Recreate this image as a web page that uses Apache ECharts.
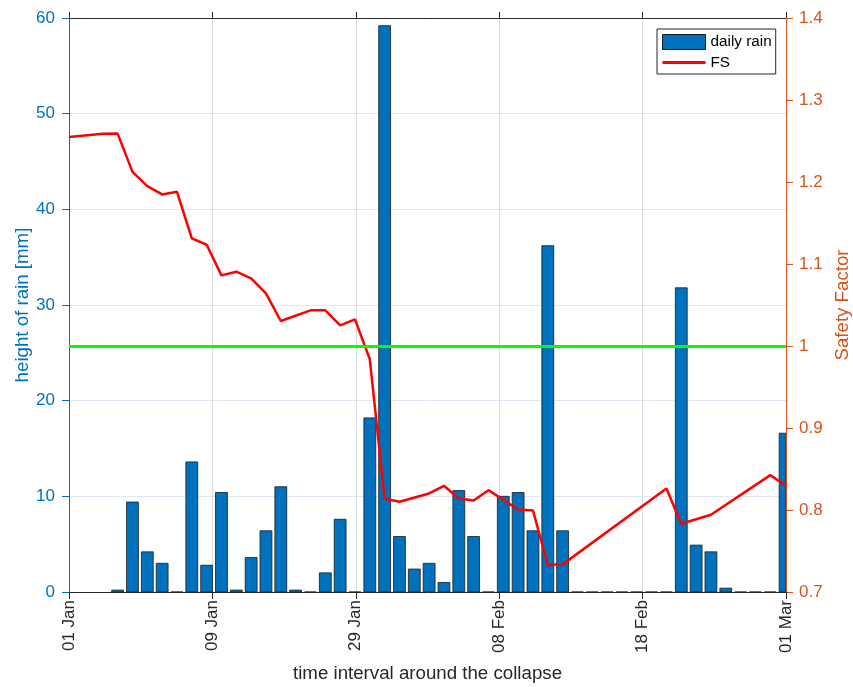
<!DOCTYPE html>
<html>
<head>
<meta charset="utf-8">
<script src="https://cdn.jsdelivr.net/npm/echarts@6/dist/echarts.min.js"></script>
<style>html,body{margin:0;padding:0;background:#fff;}#c{width:853px;height:687px;}</style>
</head>
<body>
<div id="c"></div>
<script>
// x tick labels (placed at every 10 units of the label axis)
const tickLabels = ['01 Jan', '09 Jan', '29 Jan', '08 Feb', '18 Feb', '01 Mar'];
// daily rain: day index and height [mm]
const rainDay = [0,1,2,3,4,5,6,7,8,9,10,11,12,13,14,15,16,17,18,19,20,21,22,23,24,25,26,27,28,29,30,31,32,33,34,35,36,37,38,39,40,41,42,43,44,45];
const rainMm  = [0.2,9.4,4.2,3.0,0,13.6,2.8,10.4,0.2,3.6,6.4,11.0,0.2,0,2.0,7.6,0,18.2,59.2,5.8,2.4,3.0,1.0,10.6,5.8,0,10.0,10.4,6.4,36.2,6.4,0,0,0,0,0,0,0,31.8,4.9,4.2,0.4,0,0,0,16.6];
// safety factor: day index and value
const fsDay = [-3.28,-1,0,1,2,3,4,5,6,7,8,9,10,11,13,14,15,16,17,18,19,21,22,23,24,25,27,28,29,30,37,38,40,44,45.06];
const fsVal = [1.255,1.2587,1.259,1.2124,1.1949,1.1848,1.1881,1.1312,1.1235,1.0861,1.0906,1.0825,1.0642,1.0305,1.0435,1.0435,1.0252,1.0325,0.9838,0.8137,0.810,0.8202,0.8295,0.8141,0.8117,0.8242,0.8007,0.7995,0.7329,0.7337,0.8263,0.7832,0.7942,0.8425,0.8295];
const fsLimit = 1;

const FONT = "'Liberation Sans', Arial, sans-serif";
const BLUE = '#0072BD', ORANGE = '#D95319', DARK = '#262626', EDGE = '#1a1a1a';
const BAR_FRACTION = 0.8; // MATLAB default bar width relative to day spacing

const chart = echarts.init(document.getElementById('c'));

function renderBar(params, api) {
  const d = api.value(0), v = api.value(1);
  const base = api.coord([d, 0]);
  const top = api.coord([d, v]);
  const w = api.size([1, 0])[0] * BAR_FRACTION;
  const cs = params.coordSys;
  const rect = echarts.graphic.clipRectByRect(
    { x: base[0] - w / 2, y: top[1], width: w, height: base[1] - top[1] },
    { x: cs.x, y: cs.y, width: cs.width, height: cs.height }
  );
  if (!rect) return null;
  return {
    type: 'rect', shape: rect,
    style: { fill: BLUE, stroke: EDGE, lineWidth: 0.8 }
  };
}

chart.setOption({
  animation: false,
  backgroundColor: '#fff',
  textStyle: { fontFamily: FONT },
  grid: { left: 69, right: 67, top: 18, bottom: 95, containLabel: false, outerBoundsMode: 'none' },
  legend: {
    orient: 'vertical', left: 657, top: 29,
    data: [
      { name: 'daily rain', icon: 'rect', itemStyle: { color: BLUE, borderColor: EDGE, borderWidth: 1 } },
      { name: 'FS', itemStyle: { color: 'rgba(0,0,0,0)', borderWidth: 0, opacity: 0 }, lineStyle: { width: 3, color: '#FF0000' } }
    ],
    itemWidth: 43, itemHeight: 15, itemGap: 5,
    padding: [5, 4, 4, 4],
    borderColor: DARK, borderWidth: 1, backgroundColor: '#fff', borderRadius: 0,
    textStyle: { fontFamily: FONT, fontSize: 15.3, color: '#000' }
  },
  xAxis: [
    { type: 'value', min: -3.28, max: 45.06, show: false, axisLine: { onZero: false } },
    {
      type: 'value', min: 0, max: 50, interval: 10, position: 'bottom',
      name: 'time interval around the collapse', nameLocation: 'middle', nameGap: 72,
      nameTextStyle: { fontFamily: FONT, fontSize: 18.7, color: DARK },
      axisLine: { show: true, onZero: false, lineStyle: { color: DARK, width: 1 } },
      axisTick: { show: true, inside: false, length: 7, lineStyle: { color: DARK } },
      axisLabel: { rotate: 90, margin: 8, fontFamily: FONT, fontSize: 17, color: DARK,
        formatter: v => tickLabels[Math.round(v / 10)] },
      splitLine: { show: true, lineStyle: { color: '#dcdcdc', width: 1 } }
    },
    {
      type: 'value', min: 0, max: 50, interval: 10, position: 'top',
      axisLine: { show: true, onZero: false, lineStyle: { color: DARK, width: 1 } },
      axisTick: { show: true, inside: false, length: 6, lineStyle: { color: DARK } },
      axisLabel: { show: false }, splitLine: { show: false }
    }
  ],
  yAxis: [
    {
      type: 'value', min: 0, max: 60, interval: 10, position: 'left',
      name: 'height of rain [mm]', nameLocation: 'middle', nameGap: 37, nameRotate: 90,
      nameMoveOverlap: false,
      nameTextStyle: { fontFamily: FONT, fontSize: 18.7, color: BLUE },
      axisLine: { show: true, onZero: false, lineStyle: { color: BLUE, width: 1 } },
      axisTick: { show: true, inside: false, length: 7, lineStyle: { color: BLUE } },
      axisLabel: { margin: 14, fontFamily: FONT, fontSize: 17, color: BLUE },
      splitLine: { show: true, lineStyle: { color: '#dfe8f3', width: 1 } }
    },
    {
      type: 'value', min: 0.7, max: 1.4, interval: 0.1, position: 'right',
      name: 'Safety Factor', nameLocation: 'middle', nameGap: 44, nameRotate: 90,
      nameTextStyle: { fontFamily: FONT, fontSize: 18.7, color: ORANGE },
      axisLine: { show: true, onZero: false, lineStyle: { color: ORANGE, width: 1 } },
      axisTick: { show: true, inside: false, length: 7, lineStyle: { color: ORANGE } },
      axisLabel: { margin: 13, fontFamily: FONT, fontSize: 17, color: ORANGE,
        formatter: v => String(Math.round(v * 10) / 10) },
      splitLine: { show: false }
    }
  ],
  series: [
    {
      name: 'daily rain', type: 'custom', xAxisIndex: 0, yAxisIndex: 0,
      renderItem: renderBar,
      encode: { x: 0, y: 1 },
      data: rainDay.map((d, i) => [d, rainMm[i]]),
      itemStyle: { color: BLUE, borderColor: EDGE, borderWidth: 0.8 },
      clip: true,
      z: 2
    },
    {
      name: 'FS', type: 'line', xAxisIndex: 0, yAxisIndex: 1,
      data: fsDay.map((d, i) => [d, fsVal[i]]),
      symbol: 'none', showSymbol: false,
      lineStyle: { color: '#FF0000', width: 2.5 },
      itemStyle: { color: '#FF0000' },
      z: 4,
      markLine: {
        silent: true, symbol: 'none', animation: false,
        label: { show: false },
        lineStyle: { color: '#00FF00', width: 3, type: 'solid' },
        data: [{ yAxis: fsLimit }]
      }
    }
  ]
});
</script>
</body>
</html>
